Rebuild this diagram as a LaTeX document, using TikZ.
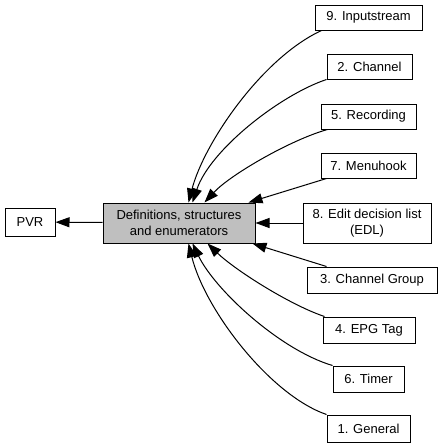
\documentclass[tikz,border=0pt]{standalone}
\usepackage{fontspec}
\setmainfont{Liberation Sans}
\usetikzlibrary{arrows.meta}

\begin{document}
\begin{tikzpicture}[x=1pt,y=-1pt,
        box/.style={draw,line width=1pt,inner sep=0pt,align=center,font=\fontsize{13}{15.5}\selectfont},
        edge/.style={line width=1pt,-{Triangle[length=14pt,width=10pt]}}]
        \useasboundingbox (0,0) rectangle (441,447);
        \node[box,minimum width=50pt,minimum height=28pt] (pvr) at (30,222) {PVR};
        \node[box,fill=black!25,minimum width=152pt,minimum height=40pt] (defs) at (179,223) {Definitions, structures\\and enumerators};
        \node[box,minimum width=107pt,minimum height=25pt] (inp) at (368.5,17.5) {9. Inputstream};
        \node[box,minimum width=85pt,minimum height=25pt] (chan) at (369.5,66.5) {2. Channel};
        \node[box,minimum width=95pt,minimum height=25pt] (rec) at (368.5,116.5) {5. Recording};
        \node[box,minimum width=95pt,minimum height=25pt] (menu) at (368.5,165.5) {7. Menuhook};
        \node[box,minimum width=128pt,minimum height=40pt] (edl) at (367,223) {8. Edit decision list\\(EDL)};
        \node[box,minimum width=130pt,minimum height=26pt] (cgrp) at (372,280) {3. Channel Group};
        \node[box,minimum width=92pt,minimum height=26pt] (epg) at (369,330) {4. EPG Tag};
        \node[box,minimum width=71pt,minimum height=26pt] (timer) at (368.5,379) {6. Timer};
        \node[box,minimum width=83pt,minimum height=27pt] (gen) at (368.5,428.5) {1. General};

        \draw[edge] (defs) -- (pvr);
        \draw[edge] ([xshift=7pt]inp.south west) .. controls (262,58) and (204,143) .. ([xshift=86pt]defs.north west);
        \draw[edge] (chan.south west) .. controls (280,95) and (210,150) .. ([xshift=90pt]defs.north west);
        \draw[edge] ([xshift=7pt]rec.south west) .. controls (290,140) and (230,175) .. ([xshift=102pt]defs.north west);
        \draw[edge] ([xshift=6pt]menu.south west) -- ([xshift=-7pt]defs.north east);
        \draw[edge] (edl) -- (defs);
        \draw[edge] ([xshift=20pt]cgrp.north west) -- ([xshift=-3pt]defs.south east);
        \draw[edge] ([xshift=2pt]epg.north west) .. controls (290,305) and (235,270) .. ([xshift=105pt]defs.south west);
        \draw[edge] (timer.north west) .. controls (280,350) and (215,290) .. ([xshift=90pt]defs.south west);
        \draw[edge] (gen.north west) .. controls (270,395) and (205,310) .. ([xshift=86pt]defs.south west);
\end{tikzpicture}
\end{document}
